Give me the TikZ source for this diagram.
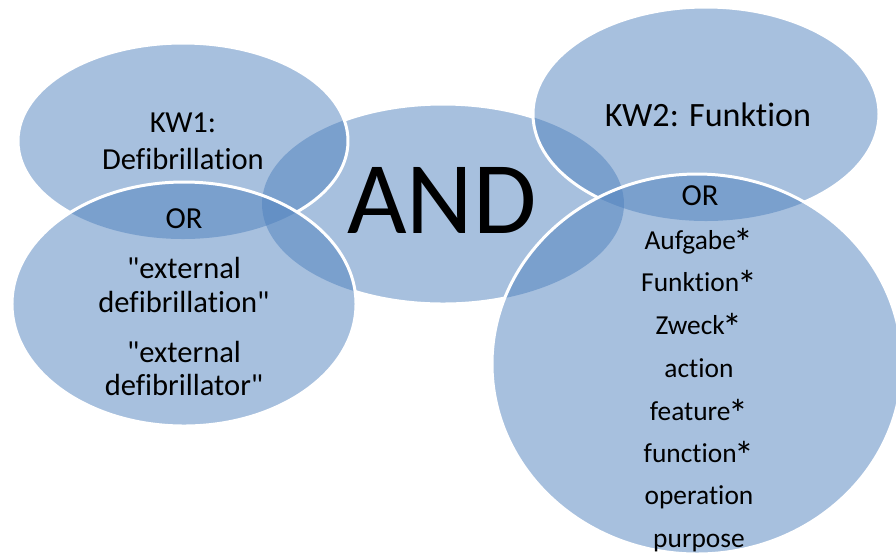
\documentclass[tikz,border=0pt]{standalone}
\usepackage{fontspec}
\setmainfont{Carlito}[Ligatures={NoCommon}]

\definecolor{ovalblue}{HTML}{4F81BD}

\tikzset{
  oval/.style={fill=ovalblue, fill opacity=0.5},
  rim/.style={draw=white, line width=1.7pt},
  word/.style={anchor=base, inner sep=0pt, font=\fontsize{15.6}{18}\selectfont},
  bigword/.style={anchor=base, inner sep=0pt, font=\fontsize{17.4}{20}\selectfont},
}

% a larger truncation star, and a break for the t-i pair
\newcommand{\wildcard}{\kern-0.08em\raisebox{-0.6ex}{\scalebox{1.45}{*}}}
\newcommand{\tsep}{\kern0pt}

% the five ovals, in pixel units
\newcommand{\andoval}{(443,204) ellipse [x radius=181, y radius=100]}
\newcommand{\kwoneoval}{(183,141) ellipse [x radius=165, y radius=98]}
\newcommand{\orleftoval}{(184,304) ellipse [x radius=172, y radius=122]}
\newcommand{\kwtwooval}{(706,114) ellipse [x radius=173, y radius=107]}
\newcommand{\orrightoval}{(697,364) ellipse [x radius=205, y radius=190]}
% keep a rim off the ovals lying above it (scope needs even odd rule)
\newcommand{\cutaway}[1]{\clip (-100,-100) rectangle (1000,700) #1;}

\begin{document}
\begin{tikzpicture}[x=0.02cm, y=-0.02cm]
\useasboundingbox (0,0) rectangle (896,556);
\clip (0,0) rectangle (896,556);

\fill[oval] \andoval;
\begin{scope}[even odd rule]
  \cutaway{\kwoneoval}
  \cutaway{\orleftoval}
  \cutaway{\kwtwooval}
  \cutaway{\orrightoval}
  \draw[rim] \andoval;
\end{scope}

\fill[oval] \kwoneoval;
\begin{scope}[even odd rule]
  \cutaway{\orleftoval}
  \draw[rim] \kwoneoval;
\end{scope}

\fill[oval] \orleftoval;
\draw[rim] \orleftoval;

\fill[oval] \kwtwooval;
\begin{scope}[even odd rule]
  \cutaway{\orrightoval}
  \draw[rim] \kwtwooval;
\end{scope}

\fill[oval] \orrightoval;
\draw[rim] \orrightoval;

% texts
\node[anchor=base, inner sep=0pt, font=\fontsize{58.6}{60}\selectfont] (and) at (442,233) {AND};

\node[bigword] (kwone) at (183,132) {KW1:};
\node[bigword] (defib) at (183,169) {Defibrillat\tsep ion};
\node[bigword] (orleft) at (184,228) {OR};
\node[bigword] (extone) at (184,278) {\textquotedbl external};
\node[bigword] (defibtion) at (184,312) {defibrillat\tsep ion\textquotedbl};
\node[bigword] (exttwo) at (184,362) {\textquotedbl external};
\node[bigword] (defibtor) at (184,395) {defibrillator\textquotedbl};

\node[anchor=base, inner sep=0pt, font=\fontsize{19.4}{22}\selectfont] (kwtwo) at (708,126) {KW2: Funkt\tsep ion};
\node[bigword] (orright) at (700,205) {OR};
\node[word] (aufgabe) at (699,249) {Aufgabe\wildcard};
\node[word] (funktion) at (699,291) {Funkt\tsep ion\wildcard};
\node[word] (zweck) at (699,334) {Zweck\wildcard};
\node[word] (action) at (699,377) {act\tsep ion};
\node[word] (feature) at (699,420) {feature\wildcard};
\node[word] (function) at (699,462) {funct\tsep ion\wildcard};
\node[word] (operation) at (699,504) {operat\tsep ion};
\node[word] (purpose) at (699,547) {purpose};
\end{tikzpicture}
\end{document}
